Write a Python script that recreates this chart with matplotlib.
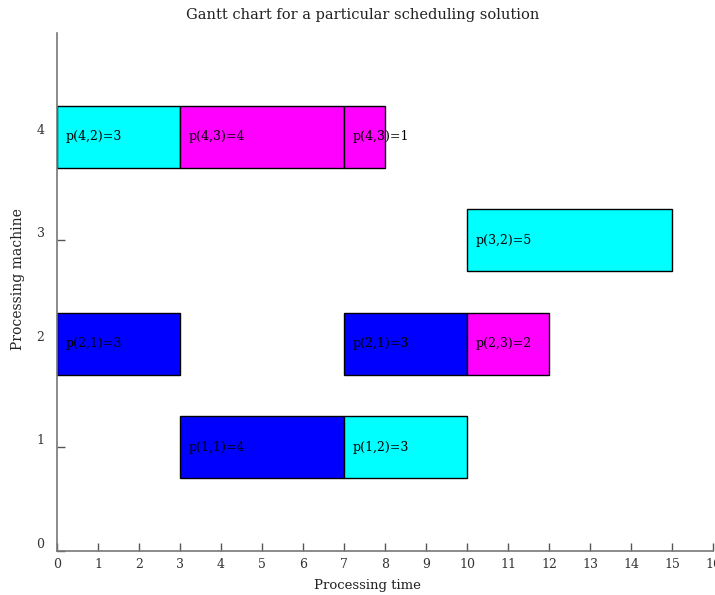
import matplotlib
matplotlib.use("Agg")
import matplotlib.pyplot as plt

# Data
machines = [4, 4, 4, 3, 2, 2, 2, 1, 1]
starts = [0, 3, 7, 10, 0, 7, 10, 3, 7]
durations = [3, 4, 1, 5, 3, 3, 2, 4, 3]
jobs = [2, 3, 3, 2, 1, 1, 3, 1, 2]
labels = ["p(4,2)=3", "p(4,3)=4", "p(4,3)=1", "p(3,2)=5",
          "p(2,1)=3", "p(2,1)=3", "p(2,3)=2", "p(1,1)=4", "p(1,2)=3"]
job_colors = {1: "#0000ff", 2: "#00ffff", 3: "#ff00ff"}
x_ticks = list(range(0, 17))
y_ticks = [0, 1, 2, 3, 4]

plt.rcParams['font.family'] = ['DejaVu Serif']

fig = plt.figure(figsize=(7.15, 5.95), dpi=100)
ax = fig.add_axes([57/715, 1-551/595, (713-57)/715, (551-33)/595])

bar_h = 0.6
for m, s, d, j, lab in zip(machines, starts, durations, jobs, labels):
    ax.barh(m, d, left=s, height=bar_h, color=job_colors[j],
            edgecolor="black", linewidth=1.0, zorder=2)
    ax.text(s + 0.2, m, lab, ha="left", va="center", fontsize=9,
            color="black", zorder=3)

ax.set_xlim(0, 16)
ax.set_ylim(0, 5)
ax.set_xticks(x_ticks)
ax.set_yticks(y_ticks)
for sp in ["top", "right"]:
    ax.spines[sp].set_visible(False)
for sp in ["left", "bottom"]:
    ax.spines[sp].set_color("#777777")
    ax.spines[sp].set_linewidth(1.2)
ax.tick_params(axis="both", direction="in", length=6, width=1.0,
               color="#555555", labelcolor="#333333", labelsize=9)
ax.tick_params(axis="x", pad=5)
ax.tick_params(axis="y", pad=9)
for t in ax.get_yticklabels():
    t.set_verticalalignment("bottom")

fig.text(363/715, 1-15/595, "Gantt chart for a particular scheduling solution",
         ha="center", va="center", fontsize=10.5, color="#222222")
fig.text(367/715, 1-586/595, "Processing time", ha="center", va="center",
         fontsize=9.5, color="#222222")
fig.text(18/715, 1-279/595, "Processing machine", ha="center", va="center",
         rotation=90, fontsize=10, color="#222222")

fig.savefig("out.png", dpi=100)
